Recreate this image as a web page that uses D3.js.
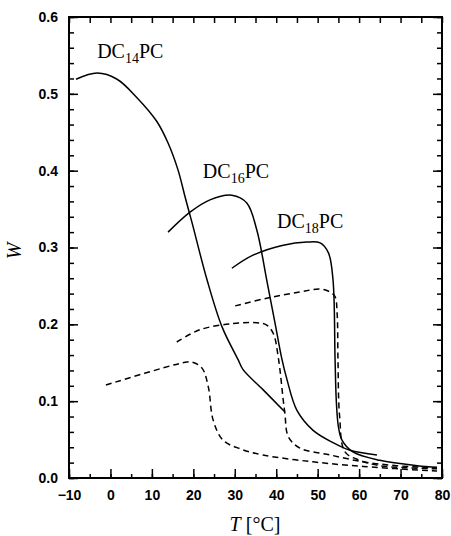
<!DOCTYPE html>
<html>
<head>
<meta charset="utf-8">
<script src="https://cdn.jsdelivr.net/npm/d3@7"></script>
<style>
  body { margin: 0; background: #fff; }
  svg { display: block; }
  .tick-label { font-family: "Liberation Sans", Arial, sans-serif; font-weight: bold; font-size: 14px; }
  .serif { font-family: "Liberation Serif", "Times New Roman", serif; }
</style>
</head>
<body>
<svg id="chart" width="451" height="536"></svg>
<script>
const width  = 451;
const height = 536;
const margin = {top: 17, right: 9, bottom: 58, left: 69};

// T [°C], W
const dc14Solid = [[-8.3,0.519],[-3.2,0.527],[1.6,0.519],[6.4,0.495],[11.2,0.464],[13.9,0.436],[16.3,0.401],[18.0,0.366],[19.7,0.332],[23.3,0.258],[26.9,0.197],[30.8,0.154],[32.0,0.141],[36.8,0.115],[42.1,0.086]];
const dc14Dash  = [[-1.1,0.121],[17.5,0.150],[19.6,0.151],[22.1,0.143],[23.6,0.119],[24.8,0.075],[27.2,0.049],[31.3,0.038],[36.8,0.030],[48.9,0.021],[61.0,0.015],[78.8,0.009]];
const dc16Solid = [[13.9,0.320],[19.2,0.346],[24.0,0.362],[29.3,0.368],[32.9,0.358],[35.3,0.323],[37.7,0.258],[39.7,0.202],[41.4,0.154],[42.6,0.128],[45.0,0.088],[48.9,0.062],[53.7,0.046],[57.8,0.036],[64.3,0.030]];
const dc16Dash  = [[16.0,0.177],[21.6,0.193],[29.6,0.201],[35.3,0.202],[37.7,0.199],[39.3,0.188],[40.5,0.157],[41.7,0.101],[42.1,0.084],[42.9,0.054],[45.7,0.039],[53.0,0.030],[61.0,0.021],[69.1,0.016],[78.8,0.013]];
const dc18Solid = [[29.3,0.273],[34.4,0.290],[41.7,0.303],[47.4,0.307],[50.6,0.306],[52.6,0.293],[53.7,0.258],[54.2,0.154],[54.5,0.100],[55.0,0.067],[55.9,0.049],[58.5,0.034],[65.0,0.023],[74.0,0.016],[78.8,0.014]];
const dc18Dash  = [[30.1,0.224],[37.7,0.234],[45.7,0.242],[50.6,0.246],[53.0,0.242],[54.2,0.236],[54.7,0.214],[54.9,0.154],[55.3,0.080],[56.6,0.034],[60.2,0.023],[65.0,0.016],[78.8,0.012]];

const series = [
  {data: dc14Solid, dash: null},
  {data: dc14Dash,  dash: "6,4"},
  {data: dc16Solid, dash: null},
  {data: dc16Dash,  dash: "6,4"},
  {data: dc18Solid, dash: null},
  {data: dc18Dash,  dash: "6,4"}
];

const labels = [
  {sub: "14", t: -3.2, w: 0.547},
  {sub: "16", t: 22.3, w: 0.390},
  {sub: "18", t: 40.2, w: 0.325}
];

const xTicks = [-10, 0, 10, 20, 30, 40, 50, 60, 70, 80];
const yTicks = [0, 0.1, 0.2, 0.3, 0.4, 0.5, 0.6];

const svg = d3.select('#chart');

let x = d3.scaleLinear().domain([-10, 80]).range([margin.left, width - margin.right]);
let y = d3.scaleLinear().domain([0, 0.6]).range([height - margin.bottom, margin.top]);

const x0 = x.range()[0], x1 = x.range()[1];
const y0 = y.range()[0], y1 = y.range()[1];

// axes, ticks pointing inwards on all four sides
let minorX = d3.range(-10, 80.1, 5);
let minorY = d3.range(0, 0.601, 0.02);

svg.append('g')
  .attr('transform', 'translate(0,' + y0 + ')')
  .call(d3.axisBottom(x).tickValues(minorX).tickSize(-4).tickFormat(''))
  .call(g => g.select('.domain').remove());
svg.append('g')
  .attr('transform', 'translate(0,' + y0 + ')')
  .call(d3.axisBottom(x).tickValues(xTicks).tickSize(-9).tickPadding(12).tickFormat(d3.format('d')))
  .call(g => g.select('.domain').remove())
  .call(g => g.selectAll('text').attr('class', 'tick-label').attr('fill', '#000'));

svg.append('g')
  .attr('transform', 'translate(0,' + y1 + ')')
  .call(d3.axisTop(x).tickValues(minorX).tickSize(-6).tickFormat(''))
  .call(g => g.select('.domain').remove());

svg.append('g')
  .attr('transform', 'translate(' + x0 + ',0)')
  .call(d3.axisLeft(y).tickValues(minorY).tickSize(-5).tickFormat(''))
  .call(g => g.select('.domain').remove());
svg.append('g')
  .attr('transform', 'translate(' + x0 + ',0)')
  .call(d3.axisLeft(y).tickValues(yTicks).tickSize(-9).tickPadding(11).tickFormat(d3.format('.1f')))
  .call(g => g.select('.domain').remove())
  .call(g => g.selectAll('text').attr('class', 'tick-label').attr('fill', '#000'));

svg.append('g')
  .attr('transform', 'translate(' + x1 + ',0)')
  .call(d3.axisRight(y).tickValues(minorY).tickSize(-5).tickFormat(''))
  .call(g => g.select('.domain').remove());
svg.append('g')
  .attr('transform', 'translate(' + x1 + ',0)')
  .call(d3.axisRight(y).tickValues(yTicks).tickSize(-9).tickFormat(''))
  .call(g => g.select('.domain').remove());

svg.selectAll('.tick line').attr('stroke', '#000').attr('stroke-width', 1.5);

svg.append('rect')
  .attr('x', x0).attr('y', y1)
  .attr('width', x1 - x0).attr('height', y0 - y1)
  .attr('fill', 'none').attr('stroke', '#000').attr('stroke-width', 2);

// curves
let line = d3.line()
  .x(d => x(d[0]))
  .y(d => y(d[1]))
  .curve(d3.curveCatmullRom.alpha(0.5));

svg.append('g')
  .selectAll('path')
  .data(series)
  .join('path')
    .attr('d', d => line(d.data))
    .attr('fill', 'none')
    .attr('stroke', '#000')
    .attr('stroke-width', 1.5)
    .attr('stroke-dasharray', d => d.dash);

// curve labels
let lab = svg.append('g')
  .selectAll('text')
  .data(labels)
  .join('text')
    .attr('class', 'serif')
    .attr('font-size', 20)
    .attr('x', d => x(d.t))
    .attr('y', d => y(d.w));
lab.append('tspan').text('DC');
lab.append('tspan').attr('font-size', 14).attr('dy', 5).text(d => d.sub);
lab.append('tspan').attr('dy', -5).text('PC');

// axis titles
let xt = svg.append('text')
  .attr('class', 'serif')
  .attr('font-size', 20)
  .attr('x', 255).attr('y', 531)
  .attr('text-anchor', 'middle');
xt.append('tspan').attr('font-style', 'italic').text('T');
xt.append('tspan').text(' [°C]');

svg.append('text')
  .attr('class', 'serif')
  .attr('font-size', 20)
  .attr('font-style', 'italic')
  .attr('transform', 'translate(21,251) rotate(-90)')
  .attr('text-anchor', 'middle')
  .text('W');
</script>
</body>
</html>
